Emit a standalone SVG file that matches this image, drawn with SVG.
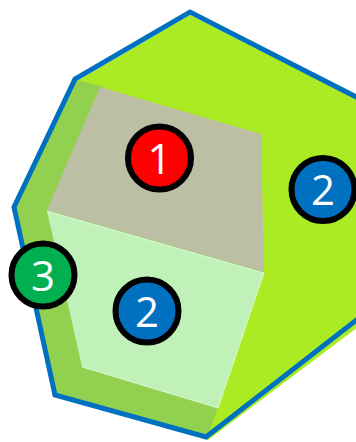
<svg xmlns="http://www.w3.org/2000/svg" width="356" height="442" viewBox="0 0 356 442">
<style>
.badge{stroke:#000;stroke-width:6}
.num{font-family:"Open Sans","Liberation Sans",sans-serif;font-size:42px;fill:#fff;text-anchor:middle}
</style>
<rect width="356" height="442" fill="#fff"/>
<g id="shape">
<polygon points="190,15 77,81 15,207 57,394 208,440 362,324 362,102" fill="#AAEB23"/>
<polygon points="76,80 102,86 264,273 208,436 56,395 14,206" fill="#92D050"/>
<polygon points="100,87 261,134 264,272 47,210" fill="#BCBFA3"/>
<polygon points="47,211 264,273 218,408 82,367" fill="#BFF1B8"/>
<polyline points="47,211 264,273" fill="none" stroke="#fff" stroke-width="0.7"/>
<polyline points="82,367 218,408 264,273" fill="none" stroke="#fff" stroke-width="0.6"/>
<polyline points="368,103 190,12 75,79 14,207 55,395 206,437 368,311" fill="none" stroke="#0070C0" stroke-width="5" stroke-linejoin="miter"/>
</g>
<g id="connectors"/>
<g id="node1">
<circle class="badge" cx="159.5" cy="158" r="31.5" fill="#FF0000"/>
<text class="num" x="159.5" y="174">1</text>
</g>
<g id="node2a">
<circle class="badge" cx="323" cy="189.5" r="31.5" fill="#0070C0"/>
<text class="num" x="323" y="205">2</text>
</g>
<g id="node3">
<circle class="badge" cx="43" cy="275" r="31.5" fill="#00B050"/>
<text class="num" x="43" y="290.5">3</text>
</g>
<g id="node2b">
<circle class="badge" cx="147" cy="311" r="31.5" fill="#0070C0"/>
<text class="num" x="147" y="326.5">2</text>
</g>
</svg>
